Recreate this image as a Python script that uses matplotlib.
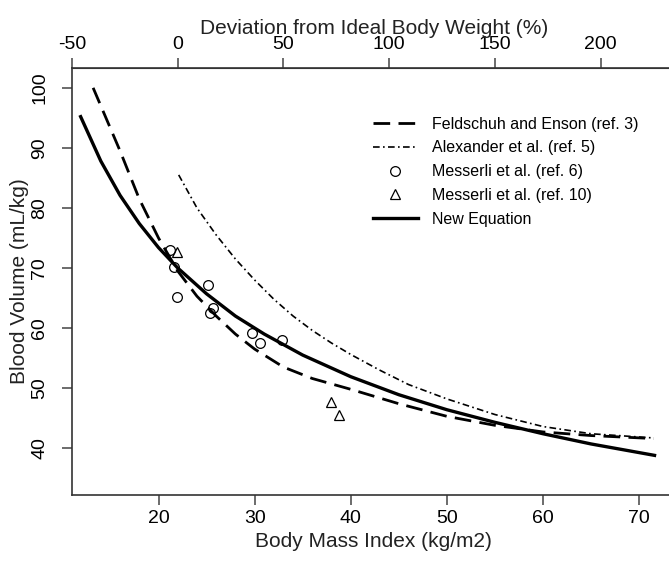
import matplotlib.pyplot as plt

plt.rcParams['font.family'] = ['Liberation Sans', 'DejaVu Sans']
plt.rcParams['axes.unicode_minus'] = False

# Feldschuh and Enson (ref. 3), dashed curve
feld_bmi = [13.2, 14, 16, 18, 20, 22, 24, 26, 28, 30, 33, 36, 40, 45, 50, 55, 60, 65, 71.5]
feld_bv = [100, 97, 89.5, 81.5, 75, 69.5, 65.3, 62, 59, 56.5, 53.5, 51.6, 49.8, 47.4, 45.3, 43.8, 42.7, 42.1, 41.6]

# Alexander et al. (ref. 5), dash-dot curve
alex_bmi = [22.1, 24, 26, 28, 30, 32, 34, 36, 38, 40, 43, 46, 50, 55, 60, 65, 71.5]
alex_bv = [85.5, 80, 75.5, 71.5, 68, 64.8, 62, 59.6, 57.5, 55.6, 53, 50.6, 48.2, 45.6, 43.6, 42.4, 41.7]

# New Equation, solid curve
new_bmi = [11.9, 14, 16, 18, 20, 22, 25, 28, 31, 35, 40, 45, 50, 55, 60, 65, 71.6]
new_bv = [95.2, 87.8, 82.1, 77.4, 73.4, 70.0, 65.7, 62.0, 59.0, 55.5, 51.9, 48.9, 46.4, 44.3, 42.4, 40.7, 38.8]

# Messerli et al. (ref. 6), open circles
mes6_bmi = [21.2, 21.6, 21.9, 25.2, 25.7, 25.4, 29.7, 30.6, 32.8]
mes6_bv = [73.0, 70.2, 65.2, 67.2, 63.3, 62.5, 59.2, 57.5, 58.0]

# Messerli et al. (ref. 10), open triangles
mes10_bmi = [21.9, 37.9, 38.8]
mes10_bv = [72.7, 47.7, 45.5]

x_ticks = [20, 30, 40, 50, 60, 70]
y_ticks = [40, 50, 60, 70, 80, 90, 100]
dev_ticks = [-50, 0, 50, 100, 150, 200]
ideal_bmi = 22.0

fig = plt.figure(figsize=(6.69, 5.72), dpi=100)
ax = fig.add_axes([0.1076, 0.1346, 0.8924 + 0.01, 0.7465])

ax.plot(feld_bmi, feld_bv, color='black', lw=2.0, dashes=(6, 3),
        label='Feldschuh and Enson (ref. 3)')
ax.plot(alex_bmi, alex_bv, color='black', lw=1.2, dashes=(4, 2, 1, 2),
        label='Alexander et al. (ref. 5)')
ax.plot(mes6_bmi, mes6_bv, linestyle='none', marker='o', ms=7,
        mfc='none', mec='black', mew=0.9, label='Messerli et al. (ref. 6)')
ax.plot(mes10_bmi, mes10_bv, linestyle='none', marker='^', ms=7,
        mfc='none', mec='black', mew=0.9, label='Messerli et al. (ref. 10)')
ax.plot(new_bmi, new_bv, color='black', lw=2.4, label='New Equation')

ax.set_xlim(11, 73.8)
ax.set_ylim(32.2, 103.3)
ax.set_xticks(x_ticks)
ax.set_yticks(y_ticks)

for side in ['left', 'bottom', 'top']:
    ax.spines[side].set_color('#333333')
    ax.spines[side].set_linewidth(1.2)
ax.spines['right'].set_visible(False)

ax.tick_params(axis='both', direction='out', length=7, width=1.1,
               color='#444444', labelsize=14)
ax.tick_params(axis='y', labelrotation=90, pad=10)
for lab in ax.get_yticklabels():
    lab.set_va('center')

ax.set_xlabel('Body Mass Index (kg/m2)', fontsize=15, color='#222222')
ax.set_ylabel('Blood Volume (mL/kg)', fontsize=15, color='#222222', labelpad=2)

# Top axis: deviation from ideal body weight
top = ax.secondary_xaxis('top', functions=(lambda b: (b / ideal_bmi - 1) * 100,
                                           lambda d: (d / 100 + 1) * ideal_bmi))
top.set_xticks(dev_ticks)
top.tick_params(direction='out', length=7, width=1.1, color='#444444', labelsize=14)
top.spines['top'].set_color('#333333')
top.set_xlabel('Deviation from Ideal Body Weight (%)', fontsize=15, color='#222222',
               labelpad=2)

ax.legend(loc='upper left', bbox_to_anchor=(0.475, 0.92), frameon=False,
          fontsize=11.5, handlelength=2.8, labelspacing=0.55, handletextpad=0.9)

plt.savefig('out.png', dpi=100)
